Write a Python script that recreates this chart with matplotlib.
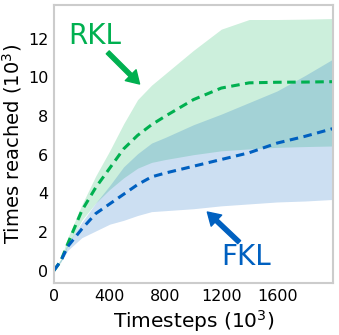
import numpy as np
import matplotlib
matplotlib.use("Agg")
import matplotlib.pyplot as plt

# timesteps (10^3)
steps = [0, 50, 100, 200, 300, 400, 500, 600, 700, 800, 1000, 1200, 1400, 1600, 1800, 2000]

# RKL: mean and band
rkl_mean = [0, 0.5, 1.4, 3.1, 4.3, 5.3, 6.3, 7.0, 7.55, 8.0, 8.85, 9.45, 9.72, 9.75, 9.76, 9.78]
rkl_low = [0, 0.45, 1.3, 2.6, 3.5, 4.2, 4.8, 5.3, 5.6, 5.75, 6.0, 6.2, 6.3, 6.38, 6.42, 6.45]
rkl_high = [0, 0.6, 1.7, 3.4, 4.9, 6.2, 7.6, 8.85, 9.6, 10.2, 11.4, 12.5, 13.0, 13.0, 13.02, 13.05]

# FKL: mean and band
fkl_mean = [0, 0.5, 1.25, 2.15, 2.95, 3.45, 3.95, 4.45, 4.85, 5.05, 5.4, 5.75, 6.1, 6.6, 6.95, 7.35]
fkl_low = [0, 0.45, 1.05, 1.7, 2.05, 2.4, 2.6, 2.85, 3.05, 3.1, 3.2, 3.35, 3.45, 3.55, 3.6, 3.68]
fkl_high = [0, 0.6, 1.4, 2.5, 3.5, 4.4, 5.37, 6.05, 6.6, 6.9, 7.55, 8.1, 8.7, 9.3, 10.1, 10.95]

green = "#00b050"
blue = "#0060c0"

fig = plt.figure(figsize=(3.39, 3.35), dpi=100)
ax = fig.add_axes([0.159, 0.155, 0.823, 0.830])

x = np.array(steps)
ax.fill_between(x, rkl_low, rkl_high, color=green, alpha=0.2, lw=0)
ax.fill_between(x, fkl_low, fkl_high, color=blue, alpha=0.2, lw=0)
ax.plot(x, rkl_mean, color=green, lw=2.2, dashes=(2.8, 1.8))
ax.plot(x, fkl_mean, color=blue, lw=2.2, dashes=(2.8, 1.8))

# labels + arrows
ax.text(100, 12.15, "RKL", color=green, fontsize=20, va="center", ha="left")
ax.annotate("", xy=(614, 9.66), xytext=(386, 11.3),
            arrowprops=dict(facecolor=green, edgecolor=green, width=3, headwidth=11,
                            headlength=9, shrink=0))
ax.text(1200, 0.68, "FKL", color=blue, fontsize=20, va="center", ha="left")
ax.annotate("", xy=(1100, 3.03), xytext=(1328, 1.47),
            arrowprops=dict(facecolor=blue, edgecolor=blue, width=3, headwidth=11,
                            headlength=9, shrink=0))

ax.set_xlim(0, 2000)
ax.set_ylim(-0.65, 13.75)
ax.set_xticks([0, 400, 800, 1200, 1600])
ax.set_yticks([0, 2, 4, 6, 8, 10, 12])
ax.tick_params(length=0, labelsize=11.5, pad=4)
ax.set_xlabel(r"Timesteps ($10^3$)", fontsize=14.5, labelpad=3)
ax.set_ylabel(r"Times reached ($10^3$)", fontsize=14, labelpad=3)
for s in ax.spines.values():
    s.set_color("#cccccc")
    s.set_linewidth(1.5)

fig.savefig("out.png", dpi=100)
